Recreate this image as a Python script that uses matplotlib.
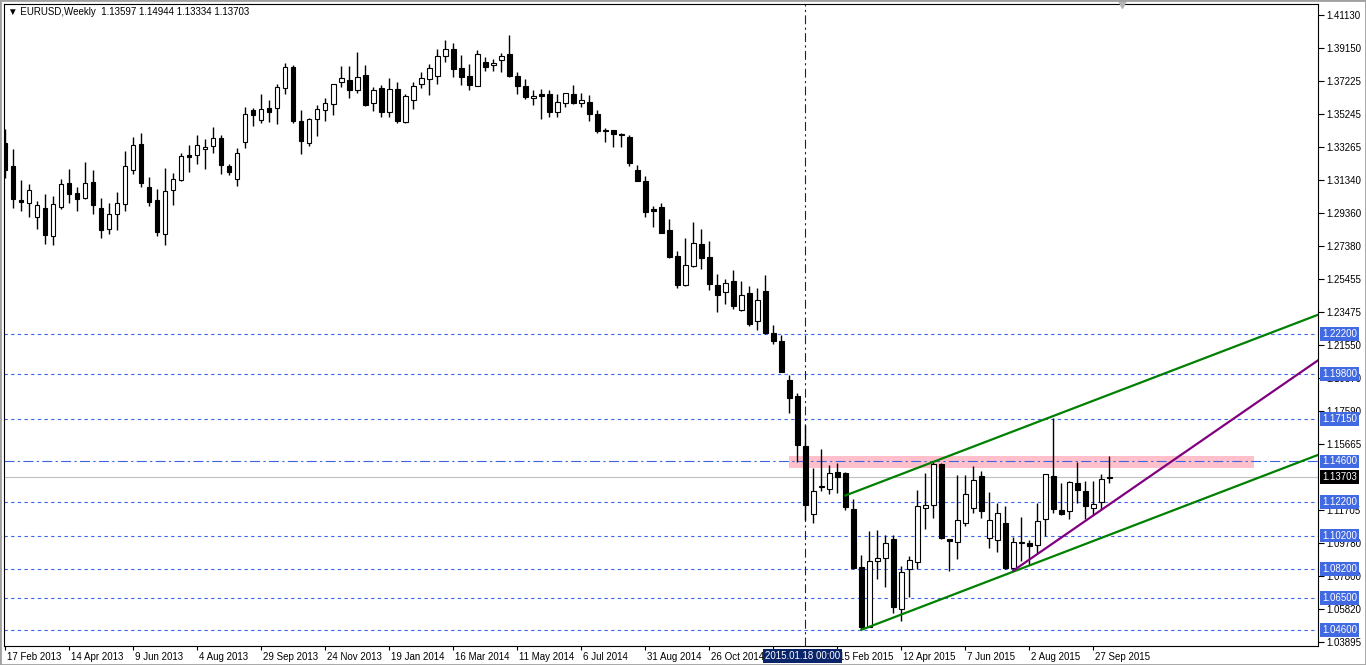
import matplotlib
matplotlib.use("Agg")
import matplotlib.pyplot as plt
import matplotlib.transforms as mtransforms
from matplotlib.patches import Rectangle
import numpy as np

plt.rcParams['font.family'] = ['Liberation Sans', 'DejaVu Sans']
plt.rcParams['font.size'] = 7

# EURUSD weekly candles, week 0 = 17 Feb 2013
opens = [1.3351, 1.3216, 1.3014, 1.2994, 1.2911, 1.2966, 1.2800, 1.2970, 1.3113, 1.3054,
         1.3024, 1.3121, 1.2966, 1.2840, 1.2929, 1.2988, 1.3190, 1.3346, 1.3089, 1.3014,
         1.2810, 1.3071, 1.3133, 1.3279, 1.3279, 1.3315, 1.3333, 1.3380, 1.3214, 1.3139,
         1.3357, 1.3547, 1.3487, 1.3559, 1.3559, 1.3677, 1.3802, 1.3481, 1.3351, 1.3493,
         1.3547, 1.3586, 1.3713, 1.3725, 1.3669, 1.3755, 1.3588, 1.3679, 1.3535, 1.3673,
         1.3479, 1.3610, 1.3705, 1.3731, 1.3752, 1.3868, 1.3909, 1.3796, 1.3749, 1.3693,
         1.3836, 1.3814, 1.3844, 1.3879, 1.3751, 1.3689, 1.3618, 1.3642, 1.3642, 1.3538,
         1.3588, 1.3642, 1.3588, 1.3594, 1.3525, 1.3431, 1.3428, 1.3406, 1.3388, 1.3192,
         1.3127, 1.2960, 1.2972, 1.2835, 1.2681, 1.2510, 1.2623, 1.2752, 1.2675, 1.2509,
         1.2469, 1.2532, 1.2358, 1.2461, 1.2293, 1.2473, 1.2222, 1.2176, 1.1944, 1.1849,
         1.1552, 1.1146, 1.1310, 1.1295, 1.1398, 1.1392, 1.1176, 1.0831, 1.0478, 1.0869,
         1.0885, 1.0999, 1.0582, 1.0819, 1.0861, 1.1185, 1.1200, 1.1445, 1.0999, 1.0980,
         1.1093, 1.1185, 1.1374, 1.1004, 1.0992, 1.1093, 1.0825, 1.0976, 1.0974, 1.0962,
         1.1116, 1.1374, 1.1172, 1.1166, 1.1332, 1.1283, 1.1182, 1.1219, 1.13597]
highs = [1.3434, 1.3315, 1.3133, 1.3109, 1.3008, 1.3049, 1.3038, 1.3139, 1.3198, 1.3091,
         1.3240, 1.3192, 1.3027, 1.2996, 1.3061, 1.3305, 1.3388, 1.3412, 1.3150, 1.3079,
         1.3202, 1.3174, 1.3293, 1.3341, 1.3400, 1.3376, 1.3448, 1.3400, 1.3226, 1.3321,
         1.3566, 1.3559, 1.3644, 1.3606, 1.3703, 1.3826, 1.3816, 1.3547, 1.3499, 1.3578,
         1.3620, 1.3701, 1.3808, 1.3808, 1.3893, 1.3816, 1.3685, 1.3697, 1.3740, 1.3715,
         1.3644, 1.3715, 1.3774, 1.3824, 1.3911, 1.3964, 1.3947, 1.3875, 1.3820, 1.3905,
         1.3862, 1.3850, 1.3885, 1.3994, 1.3772, 1.3733, 1.3666, 1.3672, 1.3667, 1.3642,
         1.3650, 1.3697, 1.3648, 1.3638, 1.3549, 1.3440, 1.3430, 1.3414, 1.3398, 1.3222,
         1.3155, 1.2978, 1.2996, 1.2901, 1.2711, 1.2788, 1.2883, 1.2841, 1.2770, 1.2574,
         1.2544, 1.2598, 1.2532, 1.2503, 1.2491, 1.2568, 1.2269, 1.2213, 1.1974, 1.1865,
         1.1677, 1.1420, 1.1534, 1.1439, 1.1449, 1.1398, 1.1235, 1.0904, 1.1049, 1.1053,
         1.1021, 1.1023, 1.0841, 1.0898, 1.1291, 1.1393, 1.1463, 1.1449, 1.1001, 1.1380,
         1.1380, 1.1433, 1.1405, 1.1277, 1.1211, 1.1194, 1.1013, 1.1128, 1.0993, 1.1215,
         1.1386, 1.1718, 1.1330, 1.1346, 1.1457, 1.1346, 1.1346, 1.1386, 1.14944]
lows = [1.3143, 1.2964, 1.2950, 1.2911, 1.2840, 1.2751, 1.2745, 1.2962, 1.2998, 1.2950,
        1.3022, 1.2932, 1.2790, 1.2813, 1.2834, 1.2950, 1.3170, 1.3093, 1.2980, 1.2802,
        1.2746, 1.2984, 1.3128, 1.3182, 1.3229, 1.3200, 1.3295, 1.3168, 1.3164, 1.3097,
        1.3321, 1.3455, 1.3473, 1.3479, 1.3467, 1.3645, 1.3473, 1.3289, 1.3336, 1.3394,
        1.3483, 1.3519, 1.3685, 1.3622, 1.3651, 1.3574, 1.3544, 1.3507, 1.3505, 1.3473,
        1.3473, 1.3556, 1.3681, 1.3639, 1.3703, 1.3832, 1.3746, 1.3699, 1.3669, 1.3691,
        1.3782, 1.3782, 1.3772, 1.3743, 1.3645, 1.3614, 1.3580, 1.3497, 1.3509, 1.3509,
        1.3568, 1.3582, 1.3568, 1.3485, 1.3414, 1.3360, 1.3330, 1.3330, 1.3218, 1.3126,
        1.2915, 1.2855, 1.2817, 1.2671, 1.2493, 1.2505, 1.2617, 1.2606, 1.2479, 1.2350,
        1.2394, 1.2366, 1.2356, 1.2267, 1.2241, 1.2216, 1.2160, 1.1992, 1.1750, 1.1457,
        1.1112, 1.1093, 1.1285, 1.1265, 1.1275, 1.1172, 1.0821, 1.0463, 1.0476, 1.0763,
        1.0712, 1.0561, 1.0514, 1.0657, 1.0821, 1.1059, 1.1126, 1.0998, 1.0811, 1.0882,
        1.1078, 1.1156, 1.1126, 1.0948, 1.0920, 1.0823, 1.0823, 1.0869, 1.0845, 1.0914,
        1.1017, 1.1152, 1.1144, 1.1116, 1.1213, 1.1116, 1.1142, 1.1178, 1.13334]
closes = [1.3192, 1.3018, 1.3000, 1.3073, 1.2982, 1.2808, 1.2988, 1.3107, 1.3048, 1.3021,
          1.3113, 1.2986, 1.2834, 1.2929, 1.2994, 1.3214, 1.3339, 1.3117, 1.3004, 1.2825,
          1.3067, 1.3137, 1.3273, 1.3269, 1.3339, 1.3327, 1.3380, 1.3220, 1.3178, 1.3291,
          1.3523, 1.3517, 1.3553, 1.3538, 1.3683, 1.3802, 1.3485, 1.3363, 1.3493, 1.3553,
          1.3588, 1.3701, 1.3737, 1.3669, 1.3743, 1.3580, 1.3666, 1.3538, 1.3673, 1.3483,
          1.3632, 1.3689, 1.3739, 1.3796, 1.3868, 1.3909, 1.3790, 1.3746, 1.3699, 1.3879,
          1.3806, 1.3830, 1.3868, 1.3752, 1.3689, 1.3624, 1.3632, 1.3633, 1.3535, 1.3594,
          1.3648, 1.3592, 1.3606, 1.3523, 1.3426, 1.3426, 1.3408, 1.3398, 1.3235, 1.3128,
          1.2944, 1.2950, 1.2819, 1.2677, 1.2510, 1.2628, 1.2756, 1.2671, 1.2516, 1.2451,
          1.2521, 1.2386, 1.2447, 1.2279, 1.2418, 1.2225, 1.2178, 1.1994, 1.1839, 1.1560,
          1.1203, 1.1285, 1.1316, 1.1390, 1.1370, 1.1191, 1.0829, 1.0478, 1.0869, 1.0885,
          1.0974, 1.0597, 1.0802, 1.0873, 1.1194, 1.1200, 1.1445, 1.1007, 1.0986, 1.1112,
          1.1265, 1.1348, 1.1168, 1.1112, 1.1152, 1.0825, 1.0980, 1.0980, 1.0960, 1.1105,
          1.1384, 1.1179, 1.1146, 1.1336, 1.1292, 1.1194, 1.1206, 1.1354, 1.13703]

# date labels every 8 weeks (the 21 Dec 2014 one sits under the highlighted time box)
date_ticks = list(range(0, 137, 8))
date_labels = ['17 Feb 2013', '14 Apr 2013', '9 Jun 2013', '4 Aug 2013', '29 Sep 2013',
               '24 Nov 2013', '19 Jan 2014', '16 Mar 2014', '11 May 2014', '6 Jul 2014',
               '31 Aug 2014', '26 Oct 2014', '', '15 Feb 2015', '12 Apr 2015',
               '7 Jun 2015', '2 Aug 2015', '27 Sep 2015']
price_ticks = [1.41130, 1.39150, 1.37225, 1.35245, 1.33265, 1.31340, 1.29360, 1.27380,
               1.25455, 1.23475, 1.21550, 1.19570, 1.17590, 1.15665, 1.11705, 1.09780,
               1.07800, 1.05820, 1.03895]

# drawn objects
levels = [1.22200, 1.19800, 1.17150, 1.12200, 1.10200, 1.08200, 1.06500, 1.04600]
key_level = 1.14600
last_price = 1.13703
zone_x = [98, 156]
zone_y = [1.1422, 1.1494]
vline_week = 100
vline_label = '2015.01.18 00:00'
upper_x, upper_y = [105, 116], [1.1258, 1.1458]
lower_x, lower_y = [107, 126], [1.0460, 1.0806]
purple_x, purple_y = [126, 137], [1.0812, 1.1173]

fig = plt.figure(figsize=(13.66, 6.65), dpi=100)
fig.patch.set_facecolor('white')
ax = fig.add_axes([4/1366, 19/665, 1314/1366, 642/665])
ax.set_xlim(-0.16, 164.06)
ax.set_ylim(1.03637, 1.41784)

o = np.array(opens); h = np.array(highs); l = np.array(lows); c = np.array(closes)
x = np.arange(len(o))
bull = c >= o
ax.vlines(x, l, h, color='black', lw=1, zorder=4)
bottoms = np.minimum(o, c)
heights = np.maximum(np.abs(c - o), 0.00005)
ax.bar(x, heights, bottom=bottoms, width=0.54, color=np.where(bull, 'white', 'black'),
       edgecolor='black', linewidth=0.8, zorder=5)

# zone and levels
ax.add_patch(Rectangle((zone_x[0], zone_y[0]), zone_x[1] - zone_x[0], zone_y[1] - zone_y[0],
                       facecolor='#ffc0cb', edgecolor='none', zorder=1))
for lv in levels:
    ax.axhline(lv, color='#3c64e6', lw=0.8, ls=(0, (3, 3)), zorder=2)
ax.axhline(key_level, color='#3c64e6', lw=0.8, ls=(0, (9, 3, 2, 3)), zorder=2)
ax.axhline(last_price, color='#c0c0c0', lw=0.8, zorder=2)
ax.axvline(vline_week, color='#1a1a6e', lw=0.8, ls=(0, (8, 3, 2, 3)), zorder=2)

# trend lines extended to the right
for tx, ty, col in [(upper_x, upper_y, '#008000'), (lower_x, lower_y, '#008000'),
                    (purple_x, purple_y, '#800080')]:
    slope = (ty[1] - ty[0]) / (tx[1] - tx[0])
    ax.plot([tx[0], 170], [ty[0], ty[0] + slope * (170 - tx[0])], color=col, lw=1.6, zorder=6)

# axes style
for s in ax.spines.values():
    s.set_color('black')
    s.set_linewidth(0.8)
ax.yaxis.tick_right()
ax.set_yticks(price_ticks)
ax.set_yticklabels(['%.5f' % p for p in price_ticks])
ax.tick_params(axis='y', direction='out', length=4, pad=2, labelsize=7, width=0.8)
ax.set_xticks(date_ticks)
ax.set_xticklabels(date_labels, ha='left')
ax.tick_params(axis='x', direction='out', length=3, pad=1, labelsize=7, width=0.8)
shift = mtransforms.ScaledTranslation(2/100, 0, fig.dpi_scale_trans)
for lab in ax.get_xticklabels():
    lab.set_transform(lab.get_transform() + shift)

# price labels boxes
ytrans = mtransforms.blended_transform_factory(ax.transAxes, ax.transData) + \
    mtransforms.ScaledTranslation(4/100, 0, fig.dpi_scale_trans)
for lv in levels + [key_level]:
    ax.text(1.0, lv, '%.5f' % lv, transform=ytrans, ha='left', va='center', color='white',
            fontsize=7, clip_on=False, zorder=10,
            bbox=dict(boxstyle='square,pad=0.2', fc='#4169e1', ec='none'))
ax.text(1.0, last_price, '%.5f' % last_price, transform=ytrans, ha='left', va='center',
        color='white', fontsize=7, clip_on=False, zorder=10,
        bbox=dict(boxstyle='square,pad=0.2', fc='black', ec='none'))

# time label of the vertical line
xtrans = mtransforms.blended_transform_factory(ax.transData, ax.transAxes)
ax.text(vline_week - 0.4, -0.008, vline_label, transform=xtrans, ha='center', va='top',
        color='white', fontsize=7, clip_on=False, zorder=10,
        bbox=dict(boxstyle='square,pad=0.2', fc='#0a246a', ec='none'))

# chart shift marker
ax.plot([139.6], [1.0], transform=xtrans, marker='v', color='#b4b4b4', markersize=6,
        clip_on=False, zorder=10)

fig.text(8/1366, 1 - 12/665, '\u25bc EURUSD,Weekly  1.13597 1.14944 1.13334 1.13703',
         ha='left', va='center', fontsize=7)
fig.add_artist(Rectangle((0, 0), 1, 1, transform=fig.transFigure, fill=False,
                         ec='#a0a0a0', lw=2))

fig.savefig('out.png', dpi=100)
